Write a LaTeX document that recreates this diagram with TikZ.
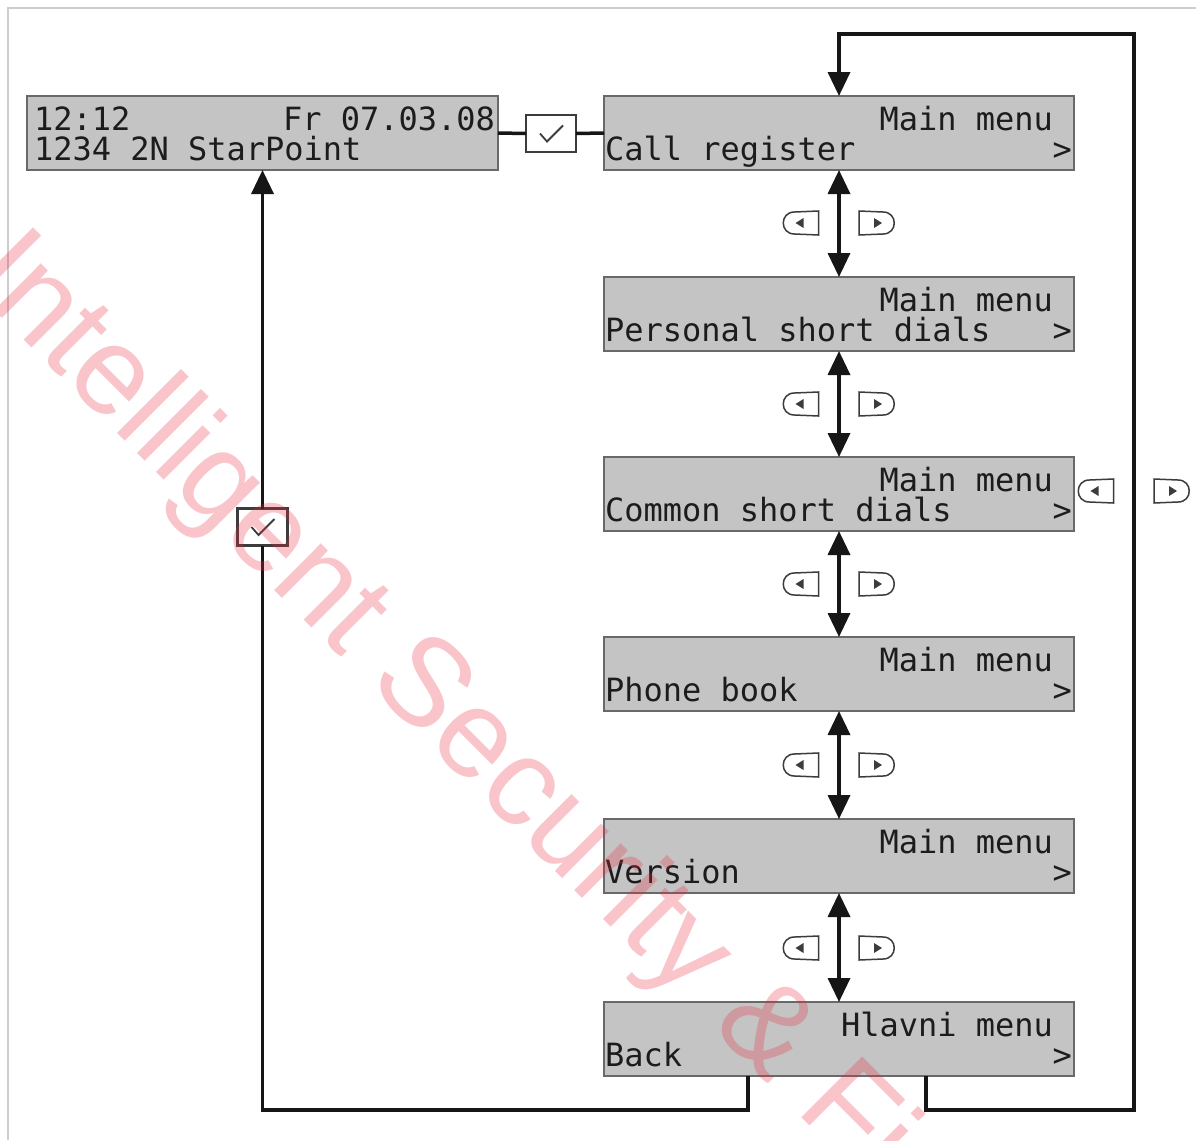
\documentclass[tikz,border=0pt]{standalone}
\usepackage{fontspec}
\newfontfamily\lcdfont{DejaVu Sans Mono}
\newfontfamily\wmfont{Liberation Sans}
\usetikzlibrary{arrows.meta}
\definecolor{lcdfill}{RGB}{196,196,196}
\definecolor{lcdedge}{RGB}{105,105,105}
\definecolor{lcdtext}{RGB}{28,28,28}
\definecolor{framegray}{RGB}{205,205,205}
\definecolor{wmred}{RGB}{235,40,60}
\definecolor{inkblack}{RGB}{22,22,22}
\definecolor{btngray}{RGB}{60,60,60}
\begin{document}
\begin{tikzpicture}[x=1pt,y=-1pt,
  lcd/.style={draw=lcdedge, line width=2pt, fill=lcdfill, minimum width=470pt, minimum height=74pt, inner sep=0pt, outer sep=0pt},
  lcdtxt/.style={font=\lcdfont\fontsize{32}{32}\selectfont, text=lcdtext, inner sep=0pt, outer sep=0pt},
  okbox/.style={draw=btngray, line width=2.2pt, fill=white, minimum width=50pt, minimum height=37pt, inner sep=0pt, outer sep=0pt},
  okmark/.style={draw=btngray, line width=1.8pt, line join=miter},
  conn/.style={line width=3.5pt, draw=inkblack},
  tipfwd/.style={-{Triangle[length=24pt,width=22pt]}},
  tipboth/.style={{Triangle[length=24pt,width=22pt]}-{Triangle[length=24pt,width=22pt]}},
  btnline/.style={draw=btngray, line width=1.5pt, fill=white},
  lbtn/.pic={
    \draw[btnline] (18,-12) -- (-6,-11) .. controls (-21,-11) and (-21,11) .. (-6,11) -- (18,12) -- cycle;
    \fill[btngray] (-5,0) -- (3,-5) -- (3,5) -- cycle;
  },
  rbtn/.pic={
    \draw[btnline] (-18,-12) -- (6,-11) .. controls (21,-11) and (21,11) .. (6,11) -- (-18,12) -- cycle;
    \fill[btngray] (5,0) -- (-3,-5) -- (-3,5) -- cycle;
  },
  wm/.style={font=\wmfont\fontsize{125}{125}\selectfont, text=wmred, text opacity=0.27, inner sep=0pt}
]
\useasboundingbox (0,0) rectangle (1196,1140);
\fill[white] (0,0) rectangle (1196,1140);
\draw[framegray, line width=1.5pt] (8,1140) -- (8,8) -- (1196,8);

% status display
\node[lcd, minimum width=471pt] (st) at (262.5,133) {};
\node[lcdtxt, anchor=base west] (st-a) at ([shift={(7,34)}]st.north west) {12:12};
\node[lcdtxt, anchor=base east] (st-b) at ([shift={(-3,34)}]st.north east) {Fr 07.03.08};
\node[lcdtxt, anchor=base west] (st-c) at ([shift={(7,64)}]st.north west) {1234 2N StarPoint};

% menu displays
\foreach \n/\cy/\hd/\it in {b1/133/{Main menu}/{Call register},
                             b2/314/{Main menu}/{Personal short dials},
                             b3/494/{Main menu}/{Common short dials},
                             b4/674/{Main menu}/{Phone book},
                             b5/856/{Main menu}/{Version},
                             b6/1039/{Hlavni menu}/{Back}}{
  \node[lcd] (\n) at (839,\cy) {};
  \node[lcdtxt, anchor=base east] (\n-h) at ([shift={(-21,34)}]\n.north east) {\hd};
  \node[lcdtxt, anchor=base west] (\n-i) at ([shift={(1,64)}]\n.north west) {\it};
  \node[lcdtxt, anchor=base east] (\n-g) at ([shift={(-2,64)}]\n.north east) {>};
}

% vertical navigation arrows
\draw[conn, tipboth] (b1.south) -- (b2.north);
\draw[conn, tipboth] (b2.south) -- (b3.north);
\draw[conn, tipboth] (b3.south) -- (b4.north);
\draw[conn, tipboth] (b4.south) -- (b5.north);
\draw[conn, tipboth] (b5.south) -- (b6.north);

% button icons
\foreach \cy in {223,404,584,765,948}{
  \pic at (800.5,\cy) {lbtn};
  \pic at (877,\cy) {rbtn};
}
\pic at (1095.5,491) {lbtn};
\pic at (1172,491) {rbtn};

% OK boxes and top connection
\node[okbox] (ok1) at (551,133.5) {};
\node[okbox] (ok2) at (262.5,527) {};
\draw[conn] (st.east) -- (ok1.west);
\draw[conn] (ok1.east) -- (b1.west);

% loops from Back
\coordinate (r1) at (926,1110);
\coordinate (r2) at (1134,1110);
\coordinate (r3) at (1134,34);
\coordinate (r4) at (839,34);
\draw[conn, tipfwd] (b6.south -| r1) -- (r1) -- (r2) -- (r3) -- (r4) -- (b1.north);
\coordinate (l1) at (748,1110);
\coordinate (l2) at (262.5,1110);
\draw[conn] (b6.south -| l1) -- (l1) -- (l2) -- (ok2.south);
\draw[conn, tipfwd] (ok2.north) -- (st.south);

% check marks
\draw[okmark] ([shift={(-11,0)}]ok1.center) -- ([shift={(-4,8)}]ok1.center) -- ([shift={(12,-8)}]ok1.center);
\draw[okmark] ([shift={(-11,0)}]ok2.center) -- ([shift={(-4,8)}]ok2.center) -- ([shift={(12,-8)}]ok2.center);

% watermark
\begin{scope}
  \clip (0,0) rectangle (1196,1140);
  \node[wm, rotate=-45, anchor=base west] (wmark) at (-36,280) {Intelligent Security \& Fi};
\end{scope}
\end{tikzpicture}
\end{document}
